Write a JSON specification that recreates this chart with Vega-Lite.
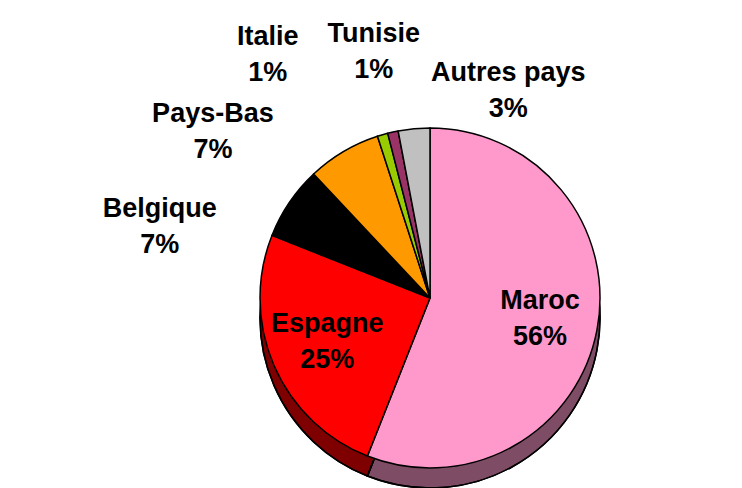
{
  "$schema": "https://vega.github.io/schema/vega-lite/v6.json",
  "width": 624,
  "height": 376,
  "autosize": {"type": "none"},
  "padding": {"left": 118, "top": 110, "right": 0, "bottom": 2},
  "background": "white",
  "config": {"view": {"stroke": null}},
  "data": {
    "values": [
      {"pays": "Maroc", "part": 0.56, "rang": 1},
      {"pays": "Espagne", "part": 0.25, "rang": 2},
      {"pays": "Belgique", "part": 0.07, "rang": 3},
      {"pays": "Pays-Bas", "part": 0.07, "rang": 4},
      {"pays": "Italie", "part": 0.01, "rang": 5},
      {"pays": "Tunisie", "part": 0.01, "rang": 6},
      {"pays": "Autres pays", "part": 0.03, "rang": 7}
    ]
  },
  "encoding": {
    "theta": {"field": "part", "type": "quantitative", "stack": true},
    "order": {"field": "rang", "type": "quantitative"}
  },
  "layer": [
    {
      "mark": {"type": "arc", "outerRadius": 170, "yOffset": 20, "stroke": "black", "strokeWidth": 1.5},
      "encoding": {
        "color": {"field": "pays", "type": "nominal", "legend": null,
          "scale": {"domain": ["Maroc", "Espagne", "Belgique", "Pays-Bas", "Italie", "Tunisie", "Autres pays"],
                    "range": ["#FF99CC", "#FF0000", "#000000", "#FF9900", "#99CC00", "#993366", "#C0C0C0"]}}
      }
    },
    {
      "mark": {"type": "arc", "outerRadius": 170, "yOffset": 20, "fill": "black", "fillOpacity": 0.5, "stroke": "black", "strokeWidth": 1.5},
      "encoding": {}
    },
    {
      "mark": {"type": "arc", "outerRadius": 170, "stroke": "black", "strokeWidth": 1.5},
      "encoding": {
        "color": {"field": "pays", "type": "nominal", "legend": null}
      }
    },
    {
      "mark": {"type": "text", "radius": 112, "dy": -18, "font": "Liberation Sans", "fontSize": 27, "fontWeight": "bold", "color": "black"},
      "encoding": {
        "text": {"field": "pays"},
        "opacity": {"condition": {"test": "datum.part > 0.2", "value": 1}, "value": 0}
      }
    },
    {
      "mark": {"type": "text", "radius": 112, "dy": 18, "font": "Liberation Sans", "fontSize": 27, "fontWeight": "bold", "color": "black"},
      "encoding": {
        "text": {"field": "part", "format": ".0%"},
        "opacity": {"condition": {"test": "datum.part > 0.2", "value": 1}, "value": 0}
      }
    },
    {
      "mark": {"type": "text", "radius": 230, "dx": -80, "dy": 40, "font": "Liberation Sans", "fontSize": 27, "fontWeight": "bold", "color": "black"},
      "encoding": {"text": {"field": "pays"}, "opacity": {"condition": {"test": "datum.pays === 'Belgique'", "value": 1}, "value": 0}}
    },
    {
      "mark": {"type": "text", "radius": 230, "dx": -80, "dy": 76, "font": "Liberation Sans", "fontSize": 27, "fontWeight": "bold", "color": "black"},
      "encoding": {"text": {"field": "part", "format": ".0%"}, "opacity": {"condition": {"test": "datum.pays === 'Belgique'", "value": 1}, "value": 0}}
    },
    {
      "mark": {"type": "text", "radius": 230, "dx": -100, "dy": 14, "font": "Liberation Sans", "fontSize": 27, "fontWeight": "bold", "color": "black"},
      "encoding": {"text": {"field": "pays"}, "opacity": {"condition": {"test": "datum.pays === 'Pays-Bas'", "value": 1}, "value": 0}}
    },
    {
      "mark": {"type": "text", "radius": 230, "dx": -100, "dy": 50, "font": "Liberation Sans", "fontSize": 27, "fontWeight": "bold", "color": "black"},
      "encoding": {"text": {"field": "part", "format": ".0%"}, "opacity": {"condition": {"test": "datum.pays === 'Pays-Bas'", "value": 1}, "value": 0}}
    },
    {
      "mark": {"type": "text", "radius": 230, "dx": -98, "dy": -40, "font": "Liberation Sans", "fontSize": 27, "fontWeight": "bold", "color": "black"},
      "encoding": {"text": {"field": "pays"}, "opacity": {"condition": {"test": "datum.pays === 'Italie'", "value": 1}, "value": 0}}
    },
    {
      "mark": {"type": "text", "radius": 230, "dx": -98, "dy": -4, "font": "Liberation Sans", "fontSize": 27, "fontWeight": "bold", "color": "black"},
      "encoding": {"text": {"field": "part", "format": ".0%"}, "opacity": {"condition": {"test": "datum.pays === 'Italie'", "value": 1}, "value": 0}}
    },
    {
      "mark": {"type": "text", "radius": 230, "dx": -6, "dy": -40, "font": "Liberation Sans", "fontSize": 27, "fontWeight": "bold", "color": "black"},
      "encoding": {"text": {"field": "pays"}, "opacity": {"condition": {"test": "datum.pays === 'Tunisie'", "value": 1}, "value": 0}}
    },
    {
      "mark": {"type": "text", "radius": 230, "dx": -6, "dy": -4, "font": "Liberation Sans", "fontSize": 27, "fontWeight": "bold", "color": "black"},
      "encoding": {"text": {"field": "part", "format": ".0%"}, "opacity": {"condition": {"test": "datum.pays === 'Tunisie'", "value": 1}, "value": 0}}
    },
    {
      "mark": {"type": "text", "radius": 230, "dx": 100, "dy": 4, "font": "Liberation Sans", "fontSize": 27, "fontWeight": "bold", "color": "black"},
      "encoding": {"text": {"field": "pays"}, "opacity": {"condition": {"test": "datum.pays === 'Autres pays'", "value": 1}, "value": 0}}
    },
    {
      "mark": {"type": "text", "radius": 230, "dx": 100, "dy": 40, "font": "Liberation Sans", "fontSize": 27, "fontWeight": "bold", "color": "black"},
      "encoding": {"text": {"field": "part", "format": ".0%"}, "opacity": {"condition": {"test": "datum.pays === 'Autres pays'", "value": 1}, "value": 0}}
    }
  ]
}
